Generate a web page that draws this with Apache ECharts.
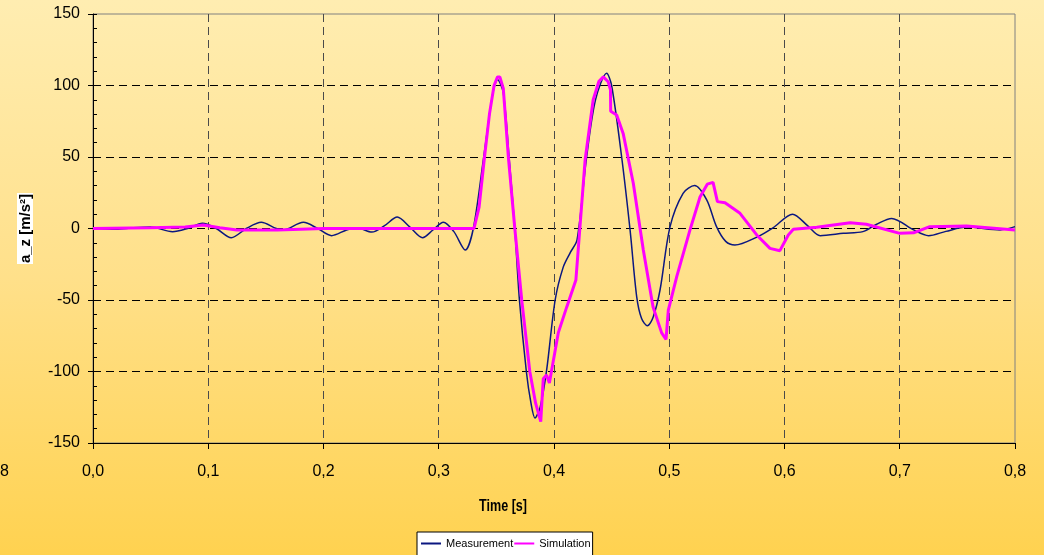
<!DOCTYPE html>
<html>
<head>
<meta charset="utf-8">
<script src="https://cdn.jsdelivr.net/npm/echarts@6/dist/echarts.min.js"></script>
<style>
  html, body { margin: 0; padding: 0; }
  #chart { width: 1044px; height: 555px; background: linear-gradient(to bottom, #FFEDB1 0%, #FFE08A 50%, #FFD250 100%); }
</style>
</head>
<body>
<div id="chart"></div>
<script>
// Tick values
const xTicks = [0, 0.1, 0.2, 0.3, 0.4, 0.5, 0.6, 0.7, 0.8];
const yTicks = [-150, -100, -50, 0, 50, 100, 150];

// Measurement series (time [s], a_z [m/s²])
const measT = [0.000, 0.020, 0.035, 0.050, 0.069, 0.082, 0.095, 0.107, 0.120, 0.133, 0.146, 0.159, 0.165, 0.1825, 0.195, 0.207, 0.220, 0.229, 0.242, 0.253, 0.264, 0.275, 0.286, 0.295, 0.304, 0.313, 0.323, 0.330, 0.339, 0.347, 0.351, 0.356, 0.361, 0.366, 0.370, 0.376, 0.380, 0.3835, 0.388, 0.3936, 0.401, 0.408, 0.414, 0.420, 0.428, 0.436, 0.4457, 0.450, 0.4587, 0.466, 0.4718, 0.476, 0.481, 0.486, 0.492, 0.5006, 0.512, 0.522, 0.5325, 0.541, 0.549, 0.557, 0.576, 0.590, 0.607, 0.620, 0.631, 0.651, 0.668, 0.680, 0.693, 0.712, 0.725, 0.740, 0.758, 0.787, 0.800];
const measV = [0, -0.5, 0.5, 1, -2.2, 0, 3.6, 0, -6.4, 0, 4.3, 0, -1, 4.3, 0, -5, -1, 0.5, -2.5, 2, 8, 1, -6.4, -1, 4.4, -2, -15, 0, 50, 95, 104, 95, 50, 0, -50, -100, -122, -132.5, -125, -99, -50, -27, -17, -8, 48, 90, 108.5, 100, 50, -1, -48, -63, -68, -62, -43, 1, 24.6, 30, 20, 1.3, -9, -11.5, -6, 0.5, 10, 2, -5, -3.4, -2.2, 3, 7, -1, -5, -2, 1, -1, 1.3];

// Simulation series
const simT = [0.000, 0.050, 0.080, 0.0957, 0.110, 0.125, 0.160, 0.200, 0.3306, 0.335, 0.3397, 0.344, 0.348, 0.351, 0.353, 0.356, 0.3604, 0.366, 0.372, 0.379, 0.384, 0.3885, 0.3907, 0.3935, 0.396, 0.4037, 0.411, 0.419, 0.421, 0.427, 0.434, 0.439, 0.4428, 0.447, 0.449, 0.4492, 0.4544, 0.460, 0.4688, 0.4775, 0.486, 0.4934, 0.4972, 0.4992, 0.5065, 0.518, 0.5267, 0.533, 0.538, 0.5418, 0.5484, 0.5614, 0.5759, 0.5874, 0.596, 0.6033, 0.6077, 0.628, 0.657, 0.671, 0.700, 0.712, 0.726, 0.758, 0.800];
const simV = [0, 0.5, 1, 2.4, 0.5, -1, -1, 0, 0, 15, 50, 80, 100, 106, 106, 98, 50, 0, -50, -100, -122, -135, -105, -102.5, -108, -73, -55, -36, -15, 48, 90, 103, 106, 102.6, 97, 82, 79.4, 66.5, 31.6, -15, -55, -73, -77.5, -57, -33.7, -1, 22, 31, 32.3, 18.8, 18, 10.6, -4.5, -13.9, -15.5, -4.5, -0.6, 0.8, 4, 3, -3.4, -3, 1.3, 1.7, -1];

const seriesNames = ['Measurement', 'Simulation'];
const xTitle = 'Time [s]';
const yTitle = 'a_z [m/s²]';

const zip = (a, b) => a.map((v, i) => [v, b[i]]);
const fmtX = v => v.toFixed(1).replace('.', ',');

const chart = echarts.init(document.getElementById('chart'), null, { renderer: 'canvas' });
const xSplitColors = xTicks.map((v, i) => (i === 0 || i === xTicks.length - 1) ? 'rgba(0,0,0,0)' : '#4a4a4a');
const ySplitColors = yTicks.map((v, i) => (i === 0 || i === yTicks.length - 1) ? 'rgba(0,0,0,0)' : '#000');

chart.setOption({
  backgroundColor: 'transparent',
  animation: false,
  grid: { left: 93, right: 29, top: 14, bottom: 112, show: true, borderColor: '#808080', borderWidth: 1, backgroundColor: 'transparent' },
  xAxis: {
    type: 'value', min: xTicks[0], max: xTicks[xTicks.length - 1], interval: 0.1,
    axisLine: { show: true, onZero: false, lineStyle: { color: '#000', width: 1 } },
    axisTick: { show: true, length: 6, lineStyle: { color: '#000' } },
    axisLabel: { color: '#000', fontFamily: 'Liberation Sans, Arial', fontSize: 16, margin: 21, formatter: fmtX },
    splitLine: { show: true, lineStyle: { color: xSplitColors, type: [8, 5], width: 1 } }
  },
  yAxis: [
    {
      type: 'value', min: yTicks[0], max: yTicks[yTicks.length - 1], interval: 50,
      axisLine: { show: true, onZero: false, lineStyle: { color: '#000', width: 1 } },
      axisTick: { show: true, length: 5, lineStyle: { color: '#000' } },
      axisLabel: { color: '#000', fontFamily: 'Liberation Sans, Arial', fontSize: 16, margin: 13 },
      splitLine: { show: true, lineStyle: { color: ySplitColors, type: [8, 5], width: 1 } },
      name: yTitle, nameLocation: 'middle', nameRotate: 90, nameGap: 60,
      nameTextStyle: { color: '#000', fontFamily: 'Liberation Sans, Arial', fontSize: 15, fontWeight: 'bold', backgroundColor: '#fff', padding: [1, 1, 0, 1] }
    },
    {
      type: 'value', min: yTicks[0], max: yTicks[yTicks.length - 1], interval: 50, position: 'left',
      axisLine: { show: false },
      axisTick: { show: true, inside: true, length: 4, lineStyle: { color: '#000' } },
      minorTick: { show: true, splitNumber: 5, length: 4, lineStyle: { color: '#000' } },
      axisLabel: { show: false },
      splitLine: { show: false }
    }
  ],
  legend: {
    data: seriesNames, left: 417, top: 532, orient: 'horizontal',
    backgroundColor: '#fff', borderColor: '#000', borderWidth: 1, borderRadius: 0,
    padding: [6, 2, 8, 3], itemWidth: 20, itemHeight: 12, itemGap: 0,
    itemStyle: { color: 'rgba(0,0,0,0)', opacity: 0, borderWidth: 0 },
    textStyle: { color: '#000', fontFamily: 'Liberation Sans, Arial', fontSize: 11 }
  },
  graphic: [
    { type: 'text', x: 503, y: 506, scaleX: 0.74, style: { text: xTitle, fill: '#000', font: 'bold 17px "Liberation Sans", Arial', textAlign: 'center', textVerticalAlign: 'middle' } },
    { type: 'text', x: 9, y: 472, style: { text: fmtX(0.8), fill: '#000', font: '16px "Liberation Sans", Arial', textAlign: 'right', textVerticalAlign: 'middle' } }
  ],
  series: [
    { name: seriesNames[0], type: 'line', data: zip(measT, measV), symbol: 'none', smooth: 0.3, lineStyle: { color: '#0B1780', width: 1.5 }, itemStyle: { color: '#0B1780' }, z: 3 },
    { name: seriesNames[1], type: 'line', data: zip(simT, simV), symbol: 'none', smooth: false, lineStyle: { color: '#FF00FF', width: 3 }, itemStyle: { color: '#FF00FF' }, z: 4 }
  ]
});
</script>
</body>
</html>
